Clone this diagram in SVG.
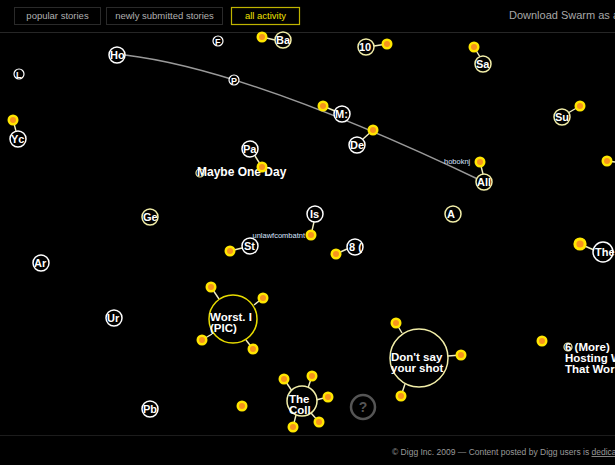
<svg xmlns="http://www.w3.org/2000/svg" xmlns:xlink="http://www.w3.org/1999/xlink" width="615" height="465" viewBox="0 0 615 465">
<style>
.bg{fill:#000}
.btn{fill:#000;stroke:#2a2a2a;stroke-width:1}
.btnon{fill:#000;stroke:#bfb400;stroke-width:1.2}
.btxt{font-family:"Liberation Sans",Arial,sans-serif;font-size:9.5px;fill:#b0b0b0}
.n circle{fill:#000;stroke:#fff;stroke-width:1.5}
.n.p circle{stroke:#f2eea8}
.n.b circle{stroke:#e8dc00}
.n text{font-family:"Liberation Sans",Arial,sans-serif;font-weight:bold;font-size:11px;fill:#fff}
.big text{font-size:11.5px}
.lbl{font-family:"Liberation Sans",Arial,sans-serif;font-size:7.5px;fill:#d8e4ff}
.con line{stroke:#f2eec0;stroke-width:1.4}
.dot{fill:#ffe600}
.dotc{fill:#f7941d}
</style>
<defs>
<g id="d"><circle class="dot" r="5.5"/><circle class="dotc" r="3"/></g>
</defs>
<rect class="bg" x="0" y="0" width="615" height="465"/>
<g id="header">
<line x1="0" y1="32.5" x2="615" y2="32.5" stroke="#262626"/>
<rect class="btn" x="14.5" y="7.5" width="86" height="17"/>
<text class="btxt" x="57.5" y="19" text-anchor="middle">popular stories</text>
<rect class="btn" x="106.5" y="7.5" width="116" height="17"/>
<text class="btxt" x="164.5" y="19" text-anchor="middle">newly submitted stories</text>
<rect class="btnon" x="231.5" y="7.5" width="68" height="17"/>
<text class="btxt" x="265.5" y="19" text-anchor="middle" style="fill:#eee000">all activity</text>
<text x="509" y="19" style="font-family:'Liberation Sans',Arial,sans-serif;font-size:11px;fill:#a8a8a8">Download Swarm as a s</text>
</g>
<g id="connectors">
<path d="M125,55 Q250,70 484,182" fill="none" stroke="#999" stroke-width="1.5"/>
<g class="con">
<line x1="262" y1="37" x2="275" y2="40"/>
<line x1="13" y1="120" x2="16" y2="131"/>
<line x1="387" y1="44" x2="374" y2="46"/>
<line x1="474" y1="47" x2="480" y2="57"/>
<line x1="323" y1="106" x2="335" y2="111"/>
<line x1="373" y1="130" x2="363" y2="139"/>
<line x1="580" y1="106" x2="568" y2="113"/>
<line x1="480" y1="162" x2="483" y2="174"/>
<line x1="607" y1="161" x2="615" y2="162"/>
<line x1="262" y1="167" x2="255" y2="156"/>
<line x1="311" y1="235" x2="314" y2="222"/>
<line x1="230" y1="251" x2="242" y2="248"/>
<line x1="336" y1="254" x2="347" y2="249"/>
<line x1="580" y1="244" x2="594" y2="250"/>
<line x1="211" y1="287" x2="219" y2="299"/>
<line x1="263" y1="298" x2="254" y2="305"/>
<line x1="202" y1="340" x2="212" y2="334"/>
<line x1="253" y1="349" x2="246" y2="340"/>
<line x1="284" y1="379" x2="292" y2="391"/>
<line x1="312" y1="376" x2="308" y2="388"/>
<line x1="328" y1="397" x2="316" y2="400"/>
<line x1="319" y1="422" x2="311" y2="413"/>
<line x1="293" y1="427" x2="296" y2="415"/>
<line x1="396" y1="323" x2="402" y2="333"/>
<line x1="461" y1="355" x2="448" y2="356"/>
<line x1="401" y1="396" x2="405" y2="384"/>
</g>
</g>
<g id="n-ho" class="n"><circle cx="117" cy="55" r="8"/><text x="110" y="59">Ho</text></g>
<g id="n-f1" class="n"><circle cx="218" cy="41" r="5" style="stroke-width:1.2"/><text x="215" y="44.5" style="font-size:9px">F</text></g>
<g id="n-ba" class="n p"><circle cx="283" cy="40" r="8"/><text x="276" y="44">Ba</text></g>
<g id="n-l" class="n"><circle cx="19" cy="74" r="5" style="stroke-width:1.2"/><text x="16" y="77.5" style="font-size:9px">L</text></g>
<g id="n-p1" class="n"><circle cx="234" cy="80" r="5" style="stroke-width:1.2"/><text x="231" y="83.5" style="font-size:9px">P</text></g>
<g id="n-yc" class="n"><circle cx="18" cy="139" r="8"/><text x="11" y="143">Yc</text></g>
<g id="n-10" class="n p"><circle cx="366" cy="47" r="8"/><text x="359" y="51">10</text></g>
<g id="n-sa" class="n p"><circle cx="483" cy="64" r="8"/><text x="476" y="68">Sa</text></g>
<g id="n-m" class="n"><circle cx="342" cy="114" r="8"/><text x="335" y="118">M:</text></g>
<g id="n-de" class="n"><circle cx="357" cy="145" r="8"/><text x="350" y="149">De</text></g>
<g id="n-su" class="n p"><circle cx="562" cy="117" r="8"/><text x="555" y="121">Su</text></g>
<g id="n-all" class="n p"><circle cx="484" cy="182" r="8"/><text x="477" y="186">All</text></g>
<g id="n-pa" class="n"><circle cx="250" cy="149" r="8"/><text x="243" y="153">Pa</text></g>
<g id="n-maybe" class="n p big"><circle cx="200" cy="173" r="4" style="stroke-width:1.2"/><text x="197" y="176" style="font-size:12px">Maybe One Day</text></g>
<g id="n-ge" class="n p"><circle cx="150" cy="217" r="8"/><text x="143" y="221">Ge</text></g>
<g id="n-is" class="n"><circle cx="315" cy="214" r="8"/><text x="310" y="218">Is</text></g>
<g id="n-st" class="n"><circle cx="250" cy="246" r="8"/><text x="244" y="250">St</text></g>
<g id="n-8" class="n"><circle cx="355" cy="247" r="8"/><text x="349" y="251">8 (</text></g>
<g id="n-a" class="n p"><circle cx="453" cy="214" r="8"/><text x="447" y="218">A</text></g>
<g id="n-the" class="n"><circle cx="603" cy="252" r="10"/><text x="595" y="256">The</text></g>
<g id="n-ar" class="n"><circle cx="41" cy="263" r="8"/><text x="34" y="267">Ar</text></g>
<g id="n-ur" class="n"><circle cx="114" cy="318" r="8"/><text x="107" y="322">Ur</text></g>
<g id="n-worst" class="n b big"><circle cx="233" cy="319" r="24"/><text x="210" y="321">Worst. I</text><text x="210" y="332">(PIC)</text></g>
<g id="n-pb" class="n"><circle cx="150" cy="409" r="8"/><text x="143" y="413">Pb</text></g>
<g id="n-coll" class="n p big"><circle cx="302" cy="401" r="15"/><text x="289" y="403">The</text><text x="289" y="414">Coll</text></g>
<g id="n-q"><circle cx="363" cy="407" r="12" fill="none" stroke="#555" stroke-width="2.5"/><text x="363" y="412" text-anchor="middle" style="font-family:'Liberation Sans',Arial,sans-serif;font-weight:bold;font-size:14px;fill:#555">?</text></g>
<g id="n-dont" class="n p big"><circle cx="419" cy="358" r="29"/><text x="391" y="361">Don't say</text><text x="391" y="372">your shot</text></g>
<g id="n-6" class="n p big"><circle cx="568" cy="347" r="4" style="stroke-width:1.2"/><text x="565" y="351">6 (More)</text><text x="565" y="362">Hosting W</text><text x="565" y="373">That Wor</text></g>
<g id="dots">
<use xlink:href="#d" x="262" y="37"/>
<use xlink:href="#d" x="13" y="120"/>
<use xlink:href="#d" x="387" y="44"/>
<use xlink:href="#d" x="474" y="47"/>
<use xlink:href="#d" x="323" y="106"/>
<use xlink:href="#d" x="373" y="130"/>
<use xlink:href="#d" x="580" y="106"/>
<use xlink:href="#d" x="480" y="162"/>
<use xlink:href="#d" x="607" y="161"/>
<use xlink:href="#d" x="262" y="167"/>
<use xlink:href="#d" x="311" y="235"/>
<use xlink:href="#d" x="230" y="251"/>
<use xlink:href="#d" x="336" y="254"/>
<use xlink:href="#d" x="580" y="244" transform="translate(580 244) scale(1.2) translate(-580 -244)"/>
<use xlink:href="#d" x="211" y="287"/>
<use xlink:href="#d" x="263" y="298"/>
<use xlink:href="#d" x="202" y="340"/>
<use xlink:href="#d" x="253" y="349"/>
<use xlink:href="#d" x="242" y="406"/>
<use xlink:href="#d" x="284" y="379"/>
<use xlink:href="#d" x="312" y="376"/>
<use xlink:href="#d" x="328" y="397"/>
<use xlink:href="#d" x="319" y="422"/>
<use xlink:href="#d" x="293" y="427"/>
<use xlink:href="#d" x="396" y="323"/>
<use xlink:href="#d" x="461" y="355"/>
<use xlink:href="#d" x="401" y="396"/>
<use xlink:href="#d" x="542" y="341"/>
</g>
<text class="lbl" x="444" y="164">hoboknj</text>
<text class="lbl" x="305" y="237.5" text-anchor="end">unlawfcombatnt</text>
<g id="footer">
<line x1="0" y1="435.5" x2="615" y2="435.5" stroke="#1c1c1c"/>
<text x="392" y="455" style="font-family:'Liberation Sans',Arial,sans-serif;font-size:8.5px;fill:#9a9a9a">© Digg Inc. 2009 — Content posted by Digg users is <tspan text-decoration="underline">dedica</tspan></text>
</g>
</svg>
